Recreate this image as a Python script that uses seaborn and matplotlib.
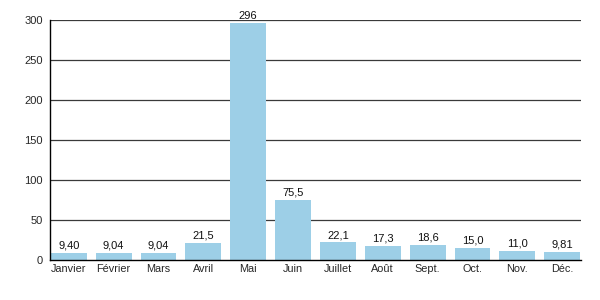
import matplotlib
matplotlib.use("Agg")
import matplotlib.pyplot as plt
import seaborn as sns
import pandas as pd

months = ["Janvier", "Février", "Mars", "Avril", "Mai", "Juin", "Juillet",
          "Août", "Sept.", "Oct.", "Nov.", "Déc."]
values = [9.40, 9.04, 9.04, 21.5, 296, 75.5, 22.1, 17.3, 18.6, 15.0, 11.0, 9.81]
labels = ["9,40", "9,04", "9,04", "21,5", "296", "75,5", "22,1", "17,3",
          "18,6", "15,0", "11,0", "9,81"]
yticks = [0, 50, 100, 150, 200, 250, 300]

sns.set_theme(style="white")
plt.rcParams["font.family"] = ["Liberation Sans", "DejaVu Sans"]

df = pd.DataFrame({"mois": months, "valeur": values})

fig = plt.figure(figsize=(6, 3), dpi=100)
ax = fig.add_axes([0.0833, 0.133, 0.885, 0.8])

ax.set_axisbelow(True)
for t in yticks[1:]:
    ax.axhline(t, color="#3a3a3a", lw=0.9, zorder=0)

sns.barplot(data=df, x="mois", y="valeur", color="#9dcfe7", saturation=1,
            width=0.8, ax=ax, zorder=2, edgecolor="none", linewidth=0)

for i, (v, lab) in enumerate(zip(values, labels)):
    ax.text(i, v + 3, lab, ha="center", va="bottom", fontsize=8, color="#111111")

ax.set_ylim(0, 300)
ax.set_xlim(-0.42, 11.42)
ax.set_yticks(yticks)
ax.set_yticklabels([str(t) for t in yticks], fontsize=8)
ax.tick_params(axis="x", labelsize=7.8, length=0, pad=3)
ax.tick_params(axis="y", length=0, pad=5)
ax.set_xlabel("")
ax.set_ylabel("")
for s in ["top", "right"]:
    ax.spines[s].set_visible(False)
ax.spines["left"].set_color("black")
ax.spines["bottom"].set_color("black")
ax.spines["left"].set_linewidth(1.0)
ax.spines["bottom"].set_linewidth(1.0)

fig.savefig("out.png", dpi=100)
